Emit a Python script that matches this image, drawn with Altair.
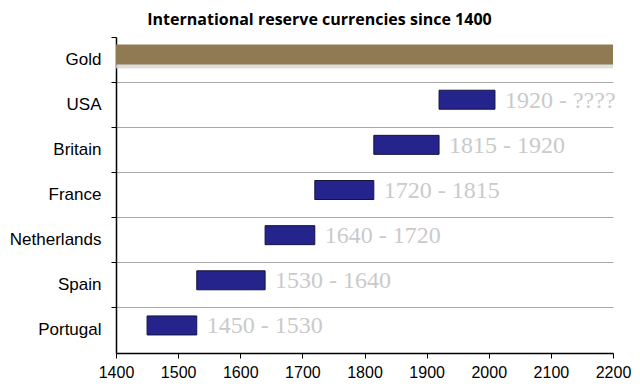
import altair as alt
import pandas as pd

countries = ["Gold", "USA", "Britain", "France", "Netherlands", "Spain", "Portugal"]
starts = [1400, 1920, 1815, 1720, 1640, 1530, 1450]
ends = [2200, 2010, 1920, 1815, 1720, 1640, 1530]
labels = ["", "1920 - ????", "1815 - 1920", "1720 - 1815", "1640 - 1720", "1530 - 1640", "1450 - 1530"]
x_ticks = [1400, 1500, 1600, 1700, 1800, 1900, 2000, 2100, 2200]

df = pd.DataFrame({"country": countries, "start": starts, "end": ends, "label": labels})
gold = df[df.country == "Gold"]
others = df[df.country != "Gold"]

x_scale = alt.Scale(domain=[1400, 2200], nice=False, zero=False)
y_scale = alt.Scale(domain=countries, paddingInner=0, paddingOuter=0)

x_enc = alt.X("start:Q", scale=x_scale, title=None,
              axis=alt.Axis(values=x_ticks, format="d", grid=False, labelFontSize=16,
                            labelFlush=False,
                            labelFont="Liberation Sans", labelColor="black", labelPadding=6,
                            tickSize=5, tickColor="black", domainColor="black", domainWidth=1.5))
y_enc = alt.Y("country:N", scale=y_scale, sort=countries, title=None,
              axis=alt.Axis(bandPosition=0, labelOffset=0, labelFontSize=17,
                            labelFont="Liberation Sans", labelColor="black", labelPadding=10,
                            tickSize=5, tickColor="black", domainColor="black", domainWidth=1.5,
                            grid=True, gridColor="#a8a8a8", gridWidth=1,
                            gridOpacity={"condition": {"test": "datum.value === 'Gold'", "value": 0}, "value": 1}))

shadow = alt.Chart(gold).mark_bar(height=20, yOffset=-1, color="#d6d6d6", opacity=0.8).encode(
    x=x_enc, x2="end:Q", y=y_enc)
gold_bar = alt.Chart(gold).mark_bar(height=20, yOffset=-5, color="#8F7A54").encode(
    x="start:Q", x2="end:Q", y=alt.Y("country:N", sort=countries))
bars = alt.Chart(others).mark_bar(height=19, yOffset=-5, color="#24248C",
                                   stroke="#141440", strokeWidth=1).encode(
    x="start:Q", x2="end:Q", y=alt.Y("country:N", sort=countries))
texts = alt.Chart(others).mark_text(align="left", baseline="middle", dx=10, yOffset=-4,
                                    font="Liberation Serif", fontSize=24, color="#cacaca").encode(
    x="end:Q", y=alt.Y("country:N", sort=countries), text="label:N")

chart = alt.layer(shadow, gold_bar, bars, texts).properties(
    width=497, height=316,
    autosize=alt.AutoSizeParams(type="none"),
    padding={"left": 108, "top": 29, "right": 19, "bottom": 36},
    title=alt.TitleParams("International reserve currencies since 1400", font="Open Sans",
                          fontSize=16, fontWeight="bold", color="black", anchor="middle",
                          dx=-45, dy=18, offset=14, baseline="alphabetic"),
).configure_view(stroke=None)

chart.save("out.html", embed_options={"renderer": "svg", "actions": False})
